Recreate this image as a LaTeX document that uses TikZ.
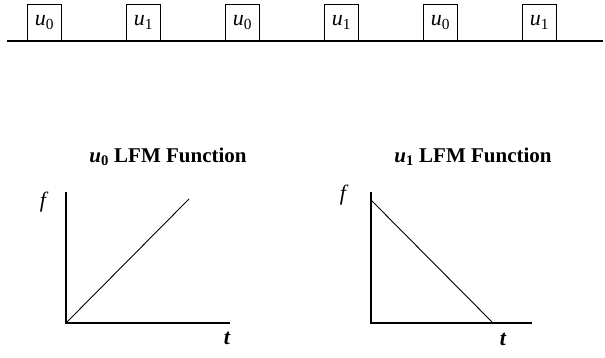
\documentclass[tikz,border=0pt]{standalone}
\usepackage{fontspec}
\setmainfont{Liberation Serif}
\usetikzlibrary{positioning}
\newcommand{\uu}[1]{\textit{u}\textsubscript{#1}}
\tikzset{pulse/.style={draw,line width=1pt,minimum width=34pt,minimum height=36pt,inner sep=0pt,font=\fontsize{22}{24}\selectfont},
axis/.style={line width=1.4pt},sweep/.style={line width=0.9pt},
title/.style={font=\fontsize{21}{23}\selectfont\bfseries},
lbl/.style={font=\fontsize{22}{24}\selectfont\itshape}}

\begin{document}
\begin{tikzpicture}[x=1pt,y=-1pt]
\useasboundingbox (0,0) rectangle (605,358);
% pulse train
\coordinate (l0) at (7,41);\coordinate (l1) at (603,41);
\draw[line width=1.2pt](l0)--(l1);
\node[pulse,anchor=south west](p1) at (27,41){\uu{0}};
\node[pulse,right=64pt of p1](p2){\uu{1}};
\node[pulse,right=64pt of p2](p3){\uu{0}};
\node[pulse,right=64pt of p3](p4){\uu{1}};
\node[pulse,right=64pt of p4](p5){\uu{0}};
\node[pulse,right=64pt of p5](p6){\uu{1}};
% up chirp
\coordinate (o0) at (66,323);\coordinate (y0) at (66,192);\coordinate (x0) at (230,323);\coordinate (e0) at (189,199);
\draw[axis](y0)--(o0)--(x0);\draw[sweep](o0)--(e0);
\node[title](t0) at (168,157){\uu{0} LFM Function};
\node[lbl](f0) at (43,202){f};
\node[lbl,font=\fontsize{22}{24}\selectfont\bfseries\itshape](s0) at (227,338){t};
% down chirp
\coordinate (o1) at (371,323);\coordinate (y1) at (371,192);\coordinate (x1) at (532,323);\coordinate (b1) at (371,200);\coordinate (e1) at (493,323);
\draw[axis](y1)--(o1)--(x1);\draw[sweep](b1)--(e1);
\node[title](t1) at (473,157){\uu{1} LFM Function};
\node[lbl](f1) at (343,195){f};
\node[lbl,font=\fontsize{22}{24}\selectfont\bfseries\itshape](s1) at (503,339){t};
\end{tikzpicture}
\end{document}
